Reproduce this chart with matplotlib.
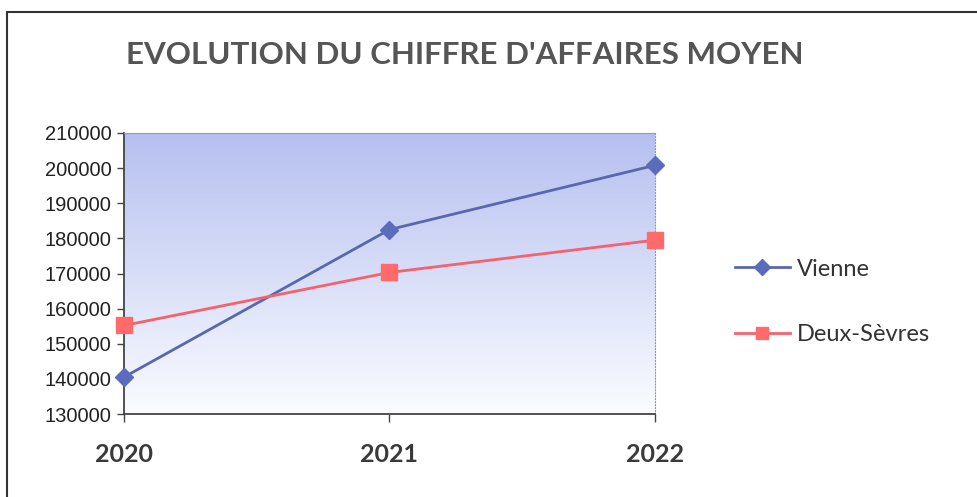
import numpy as np
import matplotlib
matplotlib.use("Agg")
import matplotlib.pyplot as plt
from matplotlib.patches import Rectangle

# Données
annees = ["2020", "2021", "2022"]
vienne = [140500, 182500, 200800]
deux_sevres = [155200, 170300, 179500]
yticks = list(range(130000, 210001, 10000))

fig = plt.figure(figsize=(9.78, 4.97), dpi=100)
fig.patch.set_facecolor("white")

# cadre extérieur du graphique
fig.patches.append(Rectangle((7 / 978, -0.05), 1.2, 1 - 12 / 497 + 0.05,
                             transform=fig.transFigure, fill=False,
                             edgecolor="#333333", linewidth=1.5))

ax = fig.add_axes([124 / 978, 1 - 414 / 497, (655 - 124) / 978, (414 - 133) / 497])
x = np.arange(len(annees))

# fond dégradé bleu -> blanc
grad = np.linspace(0, 1, 256).reshape(-1, 1)
top = np.array([182, 192, 240]) / 255
bot = np.array([250, 252, 255]) / 255
img = top * (1 - grad[..., None]) + bot * grad[..., None]
img = np.repeat(img, 2, axis=1)
ax.imshow(img, extent=[0, 1, 0, 1], transform=ax.transAxes, aspect="auto", zorder=0)

ax.plot(x, vienne, color="#5A67AE", lw=2, marker="D", ms=9,
        markerfacecolor="#5B6CBC", markeredgecolor="#5B6CBC", label="Vienne",
        zorder=3, clip_on=False)
ax.plot(x, deux_sevres, color="#F5626E", lw=2, marker="s", ms=11,
        markerfacecolor="#FF6B6B", markeredgecolor="#FF6B6B", label="Deux-Sèvres",
        zorder=3, clip_on=False)

ax.set_xlim(0, 2)
ax.set_ylim(130000, 210000)
ax.set_yticks(yticks)
ax.set_yticklabels([str(v) for v in yticks], fontsize=14.5, color="#222222",
                   family="Liberation Sans")
ax.set_xticks(x)
ax.set_xticklabels(annees, fontsize=18, fontweight="bold", color="#3a3a3a", family="Lato")
ax.tick_params(axis="y", direction="out", length=5, width=1, color="#444444", pad=4)
ax.tick_params(axis="x", direction="out", length=6, width=1, color="#444444", pad=15)

for s in ["left", "bottom"]:
    ax.spines[s].set_color("#444444")
    ax.spines[s].set_linewidth(1.3)
for s in ["top", "right"]:
    ax.spines[s].set_color("#999999")
    ax.spines[s].set_linewidth(0.8)
ax.spines["right"].set_linestyle(":")

fig.text(465 / 978, 1 - 55 / 497, "EVOLUTION DU CHIFFRE D'AFFAIRES MOYEN",
         ha="center", va="center", fontsize=22.5, fontweight="bold", color="#555555",
         family="Lato")

leg = ax.legend(loc="center left", bbox_to_anchor=(714 / 978, 1 - 302 / 497),
                bbox_transform=fig.transFigure, frameon=False,
                labelspacing=1.9, handlelength=2.3, handletextpad=0.3,
                markerscale=0.85, prop={"family": "Lato", "size": 17})
for t in leg.get_texts():
    t.set_color("#333333")

fig.savefig("out.png", dpi=100)
